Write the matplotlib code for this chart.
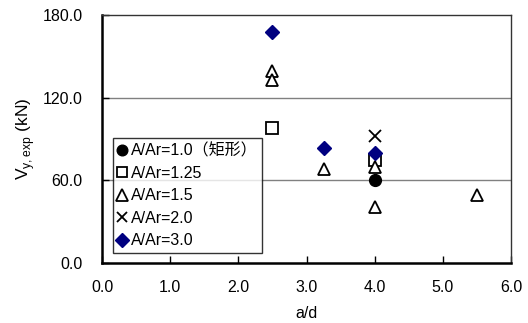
import matplotlib
matplotlib.use("Agg")
import matplotlib.pyplot as plt

plt.rcParams['font.family'] = ['Liberation Sans', 'Noto Sans CJK JP']
plt.rcParams['mathtext.fontset'] = 'custom'
plt.rcParams['mathtext.rm'] = 'Liberation Sans'

# Shear span ratio a/d and yield shear force for each area ratio group
ad_10 = [4.0]
v_10 = [60.0]
ad_125 = [2.5, 4.0]
v_125 = [98.0, 75.0]
ad_15 = [2.5, 2.5, 3.25, 4.0, 4.0, 5.5]
v_15 = [139.0, 132.5, 68.0, 70.0, 41.0, 49.5]
ad_20 = [4.0]
v_20 = [92.0]
ad_30 = [2.5, 3.25, 4.0]
v_30 = [168.0, 83.5, 80.0]

xticks = [0.0, 1.0, 2.0, 3.0, 4.0, 5.0, 6.0]
yticks = [0.0, 60.0, 120.0, 180.0]

fig = plt.figure(figsize=(5.28, 3.23), dpi=100)
ax = fig.add_axes([102/528, 1 - 263/323, (511-102)/528, (263-15)/323])

ms = 9
ax.plot(ad_10, v_10, linestyle='none', marker='o', color='black', markersize=ms-0.5,
        label='A/Ar=1.0（矩形）', zorder=5)
ax.plot(ad_125, v_125, linestyle='none', marker='s', markerfacecolor='white',
        markeredgecolor='black', markeredgewidth=1.3, markersize=ms-1, label='A/Ar=1.25', zorder=3)
ax.plot(ad_15, v_15, linestyle='none', marker='^', markerfacecolor='white',
        markeredgecolor='black', markeredgewidth=1.3, markersize=ms, label='A/Ar=1.5', zorder=4)
ax.plot(ad_20, v_20, linestyle='none', marker='x', color='black',
        markeredgewidth=1.3, markersize=ms-0.5, label='A/Ar=2.0', zorder=4)
ax.plot(ad_30, v_30, linestyle='none', marker='D', color='#000080',
        markersize=ms-1.5, label='A/Ar=3.0', zorder=6)

ax.set_xlim(0, 6)
ax.set_ylim(0, 180)
ax.set_xticks(xticks)
ax.set_yticks(yticks)
ax.set_xticklabels([f'{t:.1f}' for t in xticks], fontsize=11.5)
ax.set_yticklabels([f'{t:.1f}' for t in yticks], fontsize=11.5)
ax.tick_params(axis='x', direction='in', length=5, width=1, pad=12)
ax.tick_params(axis='y', direction='in', length=5, width=1, pad=14)

for y in yticks[1:-1]:
    ax.axhline(y, color='#808080', linewidth=1, zorder=1)

for side in ['top', 'right']:
    ax.spines[side].set_linewidth(1.0)
    ax.spines[side].set_color('#333333')
for side in ['left', 'bottom']:
    ax.spines[side].set_linewidth(1.8)

ax.set_xlabel('a/d', fontsize=11.5, labelpad=8)
ax.set_ylabel(r'V$_{\mathrm{y,exp}}$ (kN)', fontsize=12.5)
ax.yaxis.set_label_coords(-0.16, 0.5)

leg = ax.legend(loc='lower left', bbox_to_anchor=(0.027, 0.04), fontsize=11.5,
                frameon=True, fancybox=False, handlelength=0.5, handletextpad=0.3,
                borderpad=0.3, labelspacing=0.47, borderaxespad=0, markerscale=0.9)
leg.get_frame().set_edgecolor('black')
leg.get_frame().set_linewidth(1.0)

fig.savefig('out.png', dpi=100)
